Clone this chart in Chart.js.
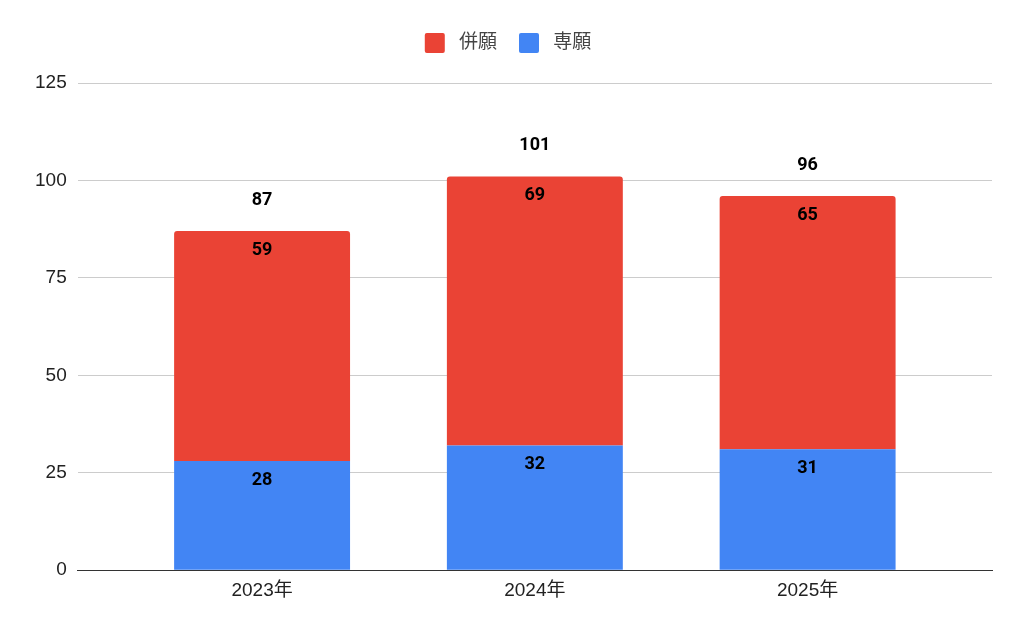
<!DOCTYPE html>
<html>
<head>
<meta charset="utf-8">
<script src="https://cdn.jsdelivr.net/npm/chart.js@4"></script>
<style>
  html, body { margin: 0; padding: 0; background: #fff; }
  #wrap { width: 1024px; height: 633px; }
</style>
</head>
<body>
<div id="wrap"><canvas id="myChart"></canvas></div>
<script>
const years = ['2023年', '2024年', '2025年'];
const senganValues = [28, 32, 31];
const heiganValues = [59, 69, 65];
const yTicks = [0, 25, 50, 75, 100, 125];

const AXIS_FONT = "'Liberation Sans', 'Noto Sans CJK JP', sans-serif";
const LABEL_FONT = "Roboto, 'Noto Sans CJK JP', sans-serif";
const SIDE_GAP = 48;   // empty space between plot edge and first/last category

// numbers inside each segment, totals above the stack
const valueLabels = {
    id: 'valueLabels',
    afterDatasetsDraw(chart) {
        const ctx = chart.ctx;
        ctx.save();
        ctx.font = 'bold 18px ' + LABEL_FONT;
        ctx.fillStyle = '#000';
        ctx.textAlign = 'center';
        ctx.textBaseline = 'middle';
        chart.data.datasets.forEach((ds, i) => {
            chart.getDatasetMeta(i).data.forEach((bar, j) => {
                ctx.fillText(ds.data[j], bar.x, bar.y + 19);
            });
        });
        chart.getDatasetMeta(1).data.forEach((bar, j) => {
            ctx.fillText(senganValues[j] + heiganValues[j], bar.x, bar.y - 31);
        });
        ctx.restore();
    }
};

// squeeze the categories inward, gridlines still run full width
const categoryInset = {
    id: 'categoryInset',
    afterLayout(chart) {
        const x = chart.scales.x;
        x._startPixel = x.left + SIDE_GAP;
        x._endPixel = x.right - SIDE_GAP;
        x._length = x._endPixel - x._startPixel;
    }
};

// more room under the legend
const legendGap = {
    id: 'legendGap',
    beforeInit(chart) {
        const fit = chart.legend.fit;
        chart.legend.fit = function () {
            fit.bind(chart.legend)();
            this.height += 20;
        };
    }
};

new Chart('myChart', {
    type: 'bar',
    data: {
        labels: years,
        datasets: [
            {
                label: '専願',
                data: senganValues,
                backgroundColor: '#4285F4'
            },
            {
                label: '併願',
                data: heiganValues,
                backgroundColor: '#EA4335',
                borderRadius: 3,
                borderSkipped: 'start'
            }
        ]
    },
    options: {
        responsive: true,
        maintainAspectRatio: false,
        animation: false,
        layout: { padding: { left: 24, right: 32, top: 11, bottom: 22 } },
        datasets: {
            bar: { categoryPercentage: 0.645, barPercentage: 1 }
        },
        scales: {
            x: {
                stacked: true,
                grid: { display: false, drawTicks: false },
                border: { color: '#333', width: 1 },
                ticks: { color: '#222', font: { family: AXIS_FONT, size: 19 }, padding: 9 }
            },
            y: {
                stacked: true,
                min: 0,
                max: 125,
                afterBuildTicks(axis) { axis.ticks = yTicks.map(v => ({ value: v })); },
                grid: { color: '#ccc', drawTicks: false },
                border: { display: false },
                ticks: { color: '#222', font: { family: AXIS_FONT, size: 19 }, padding: 11 }
            }
        },
        plugins: {
            legend: {
                position: 'top',
                reverse: true,
                labels: {
                    color: '#444',
                    font: { family: LABEL_FONT, size: 19 },
                    boxWidth: 20,
                    boxHeight: 20,
                    useBorderRadius: true,
                    borderRadius: 2,
                    padding: 22,
                    generateLabels(chart) {
                        const items = Chart.defaults.plugins.legend.labels.generateLabels(chart);
                        items.forEach(it => { it.text = ' ' + it.text; });
                        return items;
                    }
                }
            },
            tooltip: { enabled: false }
        }
    },
    plugins: [valueLabels, categoryInset, legendGap]
});
</script>
</body>
</html>
